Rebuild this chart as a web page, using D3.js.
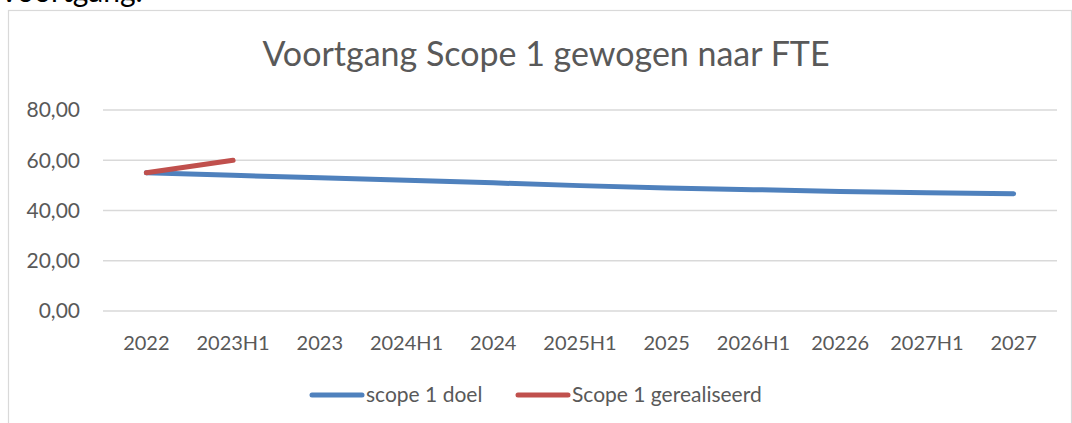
<!DOCTYPE html>
<html>
<head>
<meta charset="utf-8">
<script src="https://cdn.jsdelivr.net/npm/d3@7"></script>
<style>
  body { margin: 0; background: #fff; }
  svg { display: block; }
  text { font-family: Lato, "Open Sans", sans-serif; }
</style>
</head>
<body>
<svg id="chart"></svg>
<script>
// categories along the x axis (labels as they appear in the source)
const periods = ['2022', '2023H1', '2023', '2024H1', '2024', '2025H1', '2025', '2026H1', '20226', '2027H1', '2027'];
// target values (scope 1 doel)
const doelValues = [55.0, 54.0, 53.0, 52.0, 51.0, 49.9, 49.0, 48.3, 47.6, 47.1, 46.7];
// realised values, only for the first two periods
const gerealiseerdValues = [55.0, 60.0];
const yTicks = [0, 20, 40, 60, 80];

const W = 1072, H = 423;
const svg = d3.select('#chart').attr('width', W).attr('height', H);

// document heading that is cut off by the crop
svg.append('text')
  .attr('x', -1).attr('y', 2)
  .style('font-size', '30px')
  .style('fill', '#000')
  .text('Voortgang.');

// chart area border
svg.append('rect')
  .attr('x', 8.5).attr('y', 10.5)
  .attr('width', 1063).attr('height', 430)
  .style('fill', 'none')
  .style('stroke', '#d9d9d9')
  .style('stroke-width', 1.2);

const plot = {left: 103, right: 1057, top: 110, bottom: 311};

const x = d3.scaleBand().domain(periods).range([plot.left, plot.right]);
const y = d3.scaleLinear().domain([0, 80]).range([plot.bottom, plot.top]);
const cx = d => x(d) + x.bandwidth() / 2;

// title
svg.append('text')
  .attr('x', 546).attr('y', 66)
  .attr('text-anchor', 'middle')
  .style('font-size', '34px')
  .style('fill', '#595959')
  .text('Voortgang Scope 1 gewogen naar FTE');

// gridlines
svg.append('g')
  .selectAll('line')
  .data(yTicks)
  .enter().append('line')
    .attr('x1', plot.left).attr('x2', plot.right)
    .attr('y1', d => y(d)).attr('y2', d => y(d))
    .style('stroke', '#d9d9d9')
    .style('stroke-width', 1.5);

// y axis labels
const fmt = d => d3.format('.2f')(d).replace('.', ',');
svg.append('g')
  .selectAll('text')
  .data(yTicks)
  .enter().append('text')
    .attr('x', 80)
    .attr('y', d => y(d))
    .attr('dy', '0.35em')
    .attr('text-anchor', 'end')
    .style('font-size', '21px')
    .style('fill', '#595959')
    .text(fmt);

// x axis labels
svg.append('g')
  .selectAll('text')
  .data(periods)
  .enter().append('text')
    .attr('x', cx)
    .attr('y', 350)
    .attr('text-anchor', 'middle')
    .style('font-size', '20px')
    .style('fill', '#595959')
    .text(d => d);

const line = d3.line()
  .x(d => cx(d.p))
  .y(d => y(d.v));

const series = [
  {name: 'scope 1 doel', color: '#4f81bd', values: doelValues},
  {name: 'Scope 1 gerealiseerd', color: '#c0504d', values: gerealiseerdValues}
];

series.forEach(s => {
  svg.append('path')
    .datum(s.values.map((v, i) => ({p: periods[i], v: v})))
    .attr('d', line)
    .style('fill', 'none')
    .style('stroke', s.color)
    .style('stroke-width', 5)
    .style('stroke-linecap', 'round')
    .style('stroke-linejoin', 'round');
});

// legend
const legendPos = [{x1: 312, x2: 362, tx: 366}, {x1: 518, x2: 568, tx: 572}];
series.forEach((s, i) => {
  const lp = legendPos[i];
  svg.append('line')
    .attr('x1', lp.x1).attr('x2', lp.x2)
    .attr('y1', 395).attr('y2', 395)
    .style('stroke', s.color)
    .style('stroke-width', 5)
    .style('stroke-linecap', 'round');
  svg.append('text')
    .attr('x', lp.tx).attr('y', 395)
    .attr('dy', '0.35em')
    .style('font-size', '21px')
    .style('fill', '#595959')
    .text(s.name);
});
</script>
</body>
</html>
